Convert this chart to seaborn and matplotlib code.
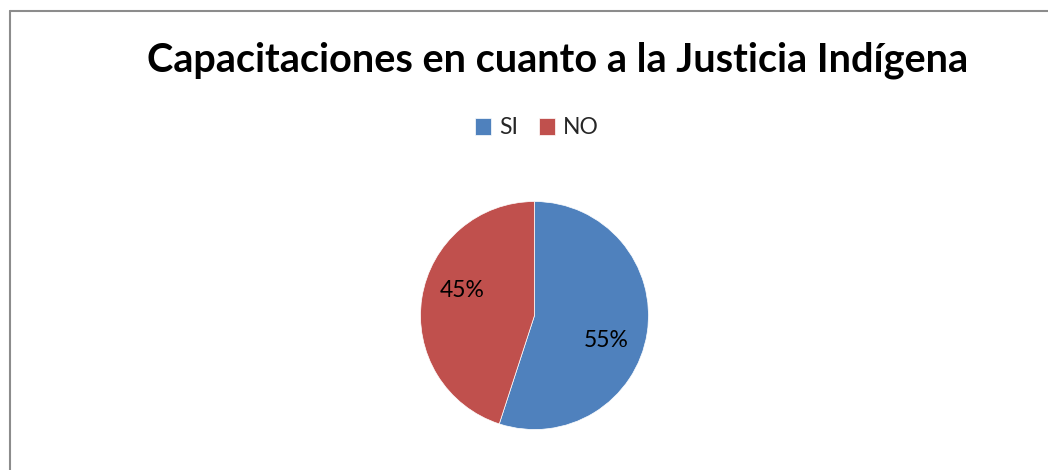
import matplotlib
matplotlib.use("Agg")
import matplotlib.pyplot as plt
import seaborn as sns
import numpy as np
from matplotlib.lines import Line2D

categories = ["SI", "NO"]
values = [55, 45]
colors = ["#4F81BD", "#C0504D"]
title = "Capacitaciones en cuanto a la Justicia Indígena"

sns.set_theme(style="white")
plt.rcParams['font.family'] = ['Lato', 'DejaVu Sans']

W, H = 1048, 470
fig = plt.figure(figsize=(W / 100, H / 100), dpi=100)
fig.patch.set_facecolor("white")

# frame (left and top edges visible)
fig.add_artist(Line2D([10 / W, 10 / W], [0, 1 - 11 / H], color="#8c8c8c", lw=1.5))
fig.add_artist(Line2D([10 / W, 1], [1 - 11 / H, 1 - 11 / H], color="#8c8c8c", lw=1.5))

# title
t = fig.text(558 / W, 1 - 60 / H, title, ha="center", va="center",
             fontsize=27, fontweight="bold", color="black")
fig.canvas.draw()
bb = t.get_window_extent()
t.set_fontsize(27 * 820 / bb.width)

# pie
cx, cy, r = 534.5, 315.5, 114
ax = fig.add_axes([(cx - r) / W, (H - cy - r) / H, 2 * r / W, 2 * r / H])
wedges, texts, autotexts = ax.pie(values, colors=colors, startangle=90, counterclock=False,
                                  autopct="%1.0f%%", pctdistance=0.66, radius=1,
                                  wedgeprops=dict(edgecolor="white", linewidth=0.5),
                                  textprops=dict(fontsize=16.5, color="black"))
# Excel-like label placement: slightly rotated clockwise from the wedge middle
for w, at in zip(wedges, autotexts):
    mid = np.deg2rad((w.theta1 + w.theta2) / 2 - 10)
    at.set_position((0.67 * np.cos(mid), 0.67 * np.sin(mid)))
ax.set_xlim(-1, 1)
ax.set_ylim(-1, 1)
ax.set_aspect("equal")
ax.axis("off")

# legend
fig.legend(wedges, categories, loc="center", bbox_to_anchor=(537 / W, 1 - 128 / H),
           ncol=2, frameon=False, fontsize=16.5, handlelength=0.7, handleheight=0.7,
           handletextpad=0.35, columnspacing=0.9)

fig.savefig("out.png", dpi=100)
